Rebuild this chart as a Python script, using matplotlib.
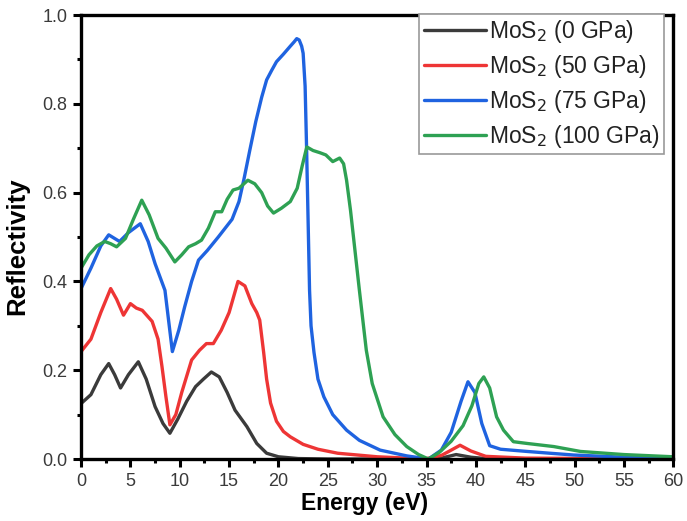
import matplotlib.pyplot as plt
from matplotlib.ticker import MultipleLocator

plt.rcParams['font.family'] = ['Liberation Sans', 'DejaVu Sans']

# 데이터
e0 = [0, 1, 2.0, 2.8, 3.4, 4.0, 4.8, 5.8, 6.6, 7.5, 8.3, 9.0, 9.8, 10.7, 11.6, 12.4, 13.2, 14.0, 14.8,
      15.6, 16.8, 17.8, 18.8, 20, 22, 25, 30, 35, 36.5, 38, 39.5, 41, 45, 60]
r0 = [0.125, 0.145, 0.19, 0.215, 0.19, 0.16, 0.19, 0.219, 0.18, 0.118, 0.08, 0.058, 0.09, 0.13, 0.163,
      0.18, 0.196, 0.185, 0.15, 0.11, 0.073, 0.035, 0.013, 0.005, 0.001, 0, 0, 0, 0.002, 0.01, 0.004, 0.001, 0, 0]

e50 = [0, 1.0, 2.0, 3.0, 3.6, 4.3, 5.0, 5.6, 6.2, 7.2, 7.8, 8.2, 8.6, 9.0, 9.6, 10.2, 11.2, 12.0, 12.7,
       13.4, 14.2, 15.0, 15.9, 16.6, 17.3, 17.8, 18.1, 18.5, 18.8, 19.2, 19.8, 20.5, 21.2, 22.5, 24,
       26, 30, 33, 35, 36.5, 37.5, 38.4, 39.5, 41, 45, 60]
r50 = [0.242, 0.27, 0.33, 0.384, 0.36, 0.324, 0.35, 0.34, 0.335, 0.31, 0.27, 0.208, 0.14, 0.077, 0.1,
       0.15, 0.223, 0.245, 0.26, 0.26, 0.29, 0.33, 0.40, 0.39, 0.35, 0.33, 0.313, 0.24, 0.18, 0.126, 0.085,
       0.062, 0.05, 0.033, 0.022, 0.013, 0.005, 0.002, 0.001, 0.008, 0.02, 0.031, 0.018, 0.006, 0.002, 0]

e75 = [0, 1.0, 2.0, 2.8, 3.9, 4.8, 6.0, 6.8, 7.5, 8.5, 9.25, 9.9, 10.5, 11.2, 11.9, 12.8, 13.9, 15.3,
       16.0, 16.5, 17.1, 17.7, 18.3, 18.8, 19.3, 19.8, 20.5, 21.2, 21.6, 21.85, 22.1, 22.35, 22.5, 22.7,
       22.85, 23.0, 23.15, 23.3, 23.6, 24.0, 24.6, 25.5, 26.9, 28.2, 30.3, 33, 35.2, 36.5, 37.5, 38.5,
       39.2, 39.9, 40.6, 41.4, 42.5, 45.2, 47.5, 49.9, 55, 60]
r75 = [0.384, 0.43, 0.48, 0.505, 0.49, 0.51, 0.53, 0.49, 0.44, 0.38, 0.242, 0.29, 0.343, 0.40, 0.448,
       0.47, 0.50, 0.54, 0.58, 0.63, 0.696, 0.76, 0.815, 0.854, 0.875, 0.895, 0.912, 0.93, 0.94, 0.947,
       0.944, 0.93, 0.914, 0.84, 0.70, 0.54, 0.38, 0.30, 0.24, 0.18, 0.14, 0.1, 0.065, 0.042, 0.02,
       0.007, 0.0, 0.02, 0.06, 0.13, 0.174, 0.15, 0.08, 0.03, 0.022, 0.017, 0.013, 0.009, 0.004, 0.002]

e100 = [0, 0.8, 1.6, 2.4, 3.0, 3.6, 4.5, 5.3, 6.15, 6.9, 7.8, 8.6, 9.5, 10.2, 10.9, 11.6, 12.2, 12.9,
        13.6, 14.25, 14.8, 15.4, 16.0, 16.9, 17.6, 18.3, 18.9, 19.5, 20.3, 21.2, 21.9, 22.4, 22.87, 23.5,
        24.2, 24.8, 25.5, 26.2, 26.6, 26.9, 27.3, 27.6, 28.2, 28.9, 29.5, 30.6, 31.8, 33.0, 34.2, 35.2,
        36.3, 37.5, 38.7, 39.6, 40.3, 40.8, 41.4, 42.1, 42.8, 43.8, 45.2, 47.9, 50.6, 55, 60]
r100 = [0.43, 0.46, 0.48, 0.49, 0.485, 0.478, 0.497, 0.54, 0.583, 0.55, 0.497, 0.475, 0.444, 0.46,
        0.478, 0.485, 0.493, 0.52, 0.557, 0.557, 0.585, 0.606, 0.61, 0.628, 0.62, 0.6, 0.57, 0.554,
        0.565, 0.58, 0.61, 0.66, 0.703, 0.695, 0.69, 0.685, 0.67, 0.678, 0.665, 0.628, 0.56, 0.50,
        0.38, 0.245, 0.17, 0.095, 0.055, 0.028, 0.01, 0.0, 0.015, 0.04, 0.075, 0.12, 0.17, 0.185, 0.16,
        0.095, 0.065, 0.039, 0.035, 0.028, 0.017, 0.01, 0.005]

labels = ['MoS$_2$ (0 GPa)', 'MoS$_2$ (50 GPa)', 'MoS$_2$ (75 GPa)', 'MoS$_2$ (100 GPa)']
colors = ['#3b3b3b', '#ee3535', '#1f63e0', '#2ea153']

fig = plt.figure(figsize=(6.87, 5.21), dpi=100)
ax = fig.add_axes([0.118, 0.119, 0.862, 0.852])

for e, r, lab, c in zip([e0, e50, e75, e100], [r0, r50, r75, r100], labels, colors):
    ax.plot(e, r, color=c, lw=2.4, label=lab, solid_joinstyle='round', solid_capstyle='round')

ax.set_xlim(0, 60)
ax.set_ylim(0, 1.0)
ax.xaxis.set_major_locator(MultipleLocator(5))
ax.xaxis.set_minor_locator(MultipleLocator(2.5))
ax.yaxis.set_major_locator(MultipleLocator(0.2))
ax.yaxis.set_minor_locator(MultipleLocator(0.1))
ax.yaxis.set_major_formatter(plt.FuncFormatter(lambda v, p: f'{v:.1f}'))

for s in ax.spines.values():
    s.set_linewidth(2.4)
ax.tick_params(which='major', direction='out', length=6, width=2.2, labelsize=13, colors='black',
               labelcolor='#3a3a3a', pad=4)
ax.tick_params(which='minor', direction='out', length=3, width=2.2)

ax.set_xlabel('Energy (eV)', fontsize=16.5, fontweight='bold')
ax.set_ylabel('Reflectivity', fontsize=18.5, fontweight='bold')
ax.xaxis.set_label_coords(0.478, -0.075)
ax.yaxis.set_label_coords(-0.088, 0.48)

leg = ax.legend(loc='upper right', bbox_to_anchor=(0.985, 1.003), fontsize=16.5, handlelength=2.7,
                handletextpad=0.15, labelspacing=0.34, borderpad=0.2, borderaxespad=0.0,
                fancybox=False, framealpha=1, edgecolor='#999999')
leg.get_frame().set_linewidth(1.2)
for t in leg.get_texts():
    t.set_color('#222222')

fig.savefig('out.png', dpi=100, facecolor='white')
